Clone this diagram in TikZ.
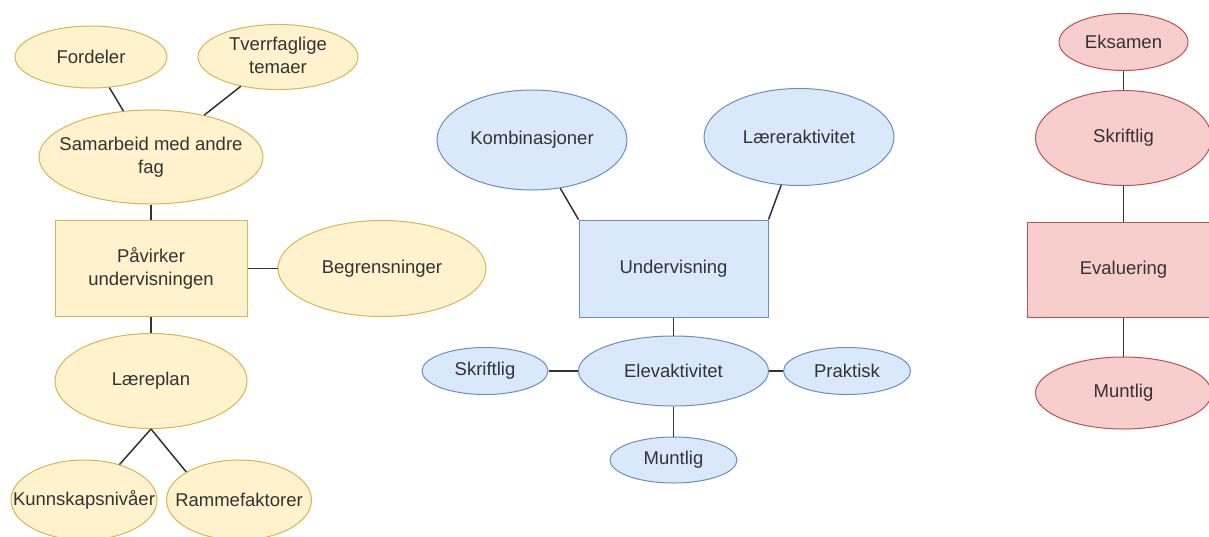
\documentclass[tikz,border=0pt]{standalone}
\usepackage{fontspec}
\setmainfont{Liberation Sans}
\usetikzlibrary{shapes.geometric}
\definecolor{yfill}{HTML}{FFF2CC}
\definecolor{ydraw}{HTML}{D6B656}
\definecolor{bfill}{HTML}{DAE8FC}
\definecolor{bdraw}{HTML}{6C8EBF}
\definecolor{rfill}{HTML}{F8CECC}
\definecolor{rdraw}{HTML}{B85450}
\definecolor{txt}{HTML}{333333}
\definecolor{lc}{HTML}{333333}
\newcommand{\zw}[1]{\makebox[0pt][c]{#1}}
\newcommand{\twol}[2]{\makebox[0pt][c]{\begin{tabular}{@{}c@{}}#1\\#2\end{tabular}}}
\begin{document}
\begin{tikzpicture}[x=1pt,y=-1pt,
  base/.style={font=\fontsize{18.5}{23}\selectfont, text=txt, inner sep=0pt, line width=1pt},
  yel/.style={fill=yfill, draw=ydraw},
  blu/.style={fill=bfill, draw=bdraw},
  red/.style={fill=rfill, draw=rdraw},
  ell/.style={ellipse, base},
  rect/.style={rectangle, base, align=center},
  conn/.style={draw=lc, line width=1.5pt}]
\useasboundingbox (0,0) rectangle (1209,536);
\fill[white] (0,0) rectangle (1209,536);
% left cluster
\node[ell,yel,minimum width=152pt,minimum height=62pt] (ford) at (91,57) {\zw{Fordeler}};
\node[ell,yel,minimum width=160pt,minimum height=63pt] (tverr) at (278,57) {\twol{Tverrfaglige}{temaer}};
\node[ell,yel,minimum width=224pt,minimum height=94pt] (sam) at (151,157) {\twol{Samarbeid med andre}{fag}};
\node[rect,yel,minimum width=192pt,minimum height=96pt] (pav) at (151,268.5) {Påvirker\\undervisningen};
\node[ell,yel,minimum width=208pt,minimum height=96pt] (begr) at (382,268.5) {\zw{Begrensninger}};
\node[ell,yel,minimum width=192pt,minimum height=95pt] (lp) at (151,381) {\zw{Læreplan}};
\node[ell,yel,minimum width=146pt,minimum height=80pt] (kn) at (84,500) {\zw{Kunnskapsnivåer}};
\node[ell,yel,minimum width=145pt,minimum height=80pt] (rf) at (239,500) {\zw{Rammefaktorer}};
% middle cluster
\node[ell,blu,minimum width=190pt,minimum height=100pt] (komb) at (532,140) {\zw{Kombinasjoner}};
\node[ell,blu,minimum width=190pt,minimum height=97pt] (laer) at (799,137) {\zw{Læreraktivitet}};
\node[rect,blu,minimum width=189pt,minimum height=97pt] (und) at (673.5,268.5) {Undervisning};
\node[ell,blu,minimum width=190pt,minimum height=70pt] (elev) at (673.5,371) {\zw{Elevaktivitet}};
\node[ell,blu,minimum width=126pt,minimum height=47pt] (skr) at (485,371) {\zw{Skriftlig}};
\node[ell,blu,minimum width=127pt,minimum height=47pt] (prak) at (847,371) {\zw{Praktisk}};
\node[ell,blu,minimum width=127pt,minimum height=46pt] (munt) at (673.5,460) {\zw{Muntlig}};
% right cluster
\node[ell,red,minimum width=129pt,minimum height=57pt] (eks) at (1123.5,42) {\zw{Eksamen}};
\node[ell,red,minimum width=176pt,minimum height=95pt] (skr2) at (1123.5,138) {\zw{Skriftlig}};
\node[rect,red,minimum width=192pt,minimum height=95pt] (eval) at (1123.5,269.5) {Evaluering};
\node[ell,red,minimum width=176pt,minimum height=72pt] (munt2) at (1123.5,393) {\zw{Muntlig}};
% connectors
\draw[conn] (ford) -- (sam);
\draw[conn] (tverr) -- (sam);
\draw[conn] (sam) -- (pav);
\draw[conn] (pav) -- (begr);
\draw[conn] (pav) -- (lp);
\draw[conn] (lp.south) -- (kn.45);
\draw[conn] (lp.south) -- (rf.152);
\draw[conn] (komb) -- (und.north west);
\draw[conn] (laer) -- (und.north east);
\draw[conn] (und) -- (elev);
\draw[conn] (skr) -- (elev);
\draw[conn] (elev) -- (prak);
\draw[conn] (elev) -- (munt);
\draw[conn] (eks) -- (skr2);
\draw[conn] (skr2) -- (eval);
\draw[conn] (eval) -- (munt2);
\end{tikzpicture}
\end{document}
